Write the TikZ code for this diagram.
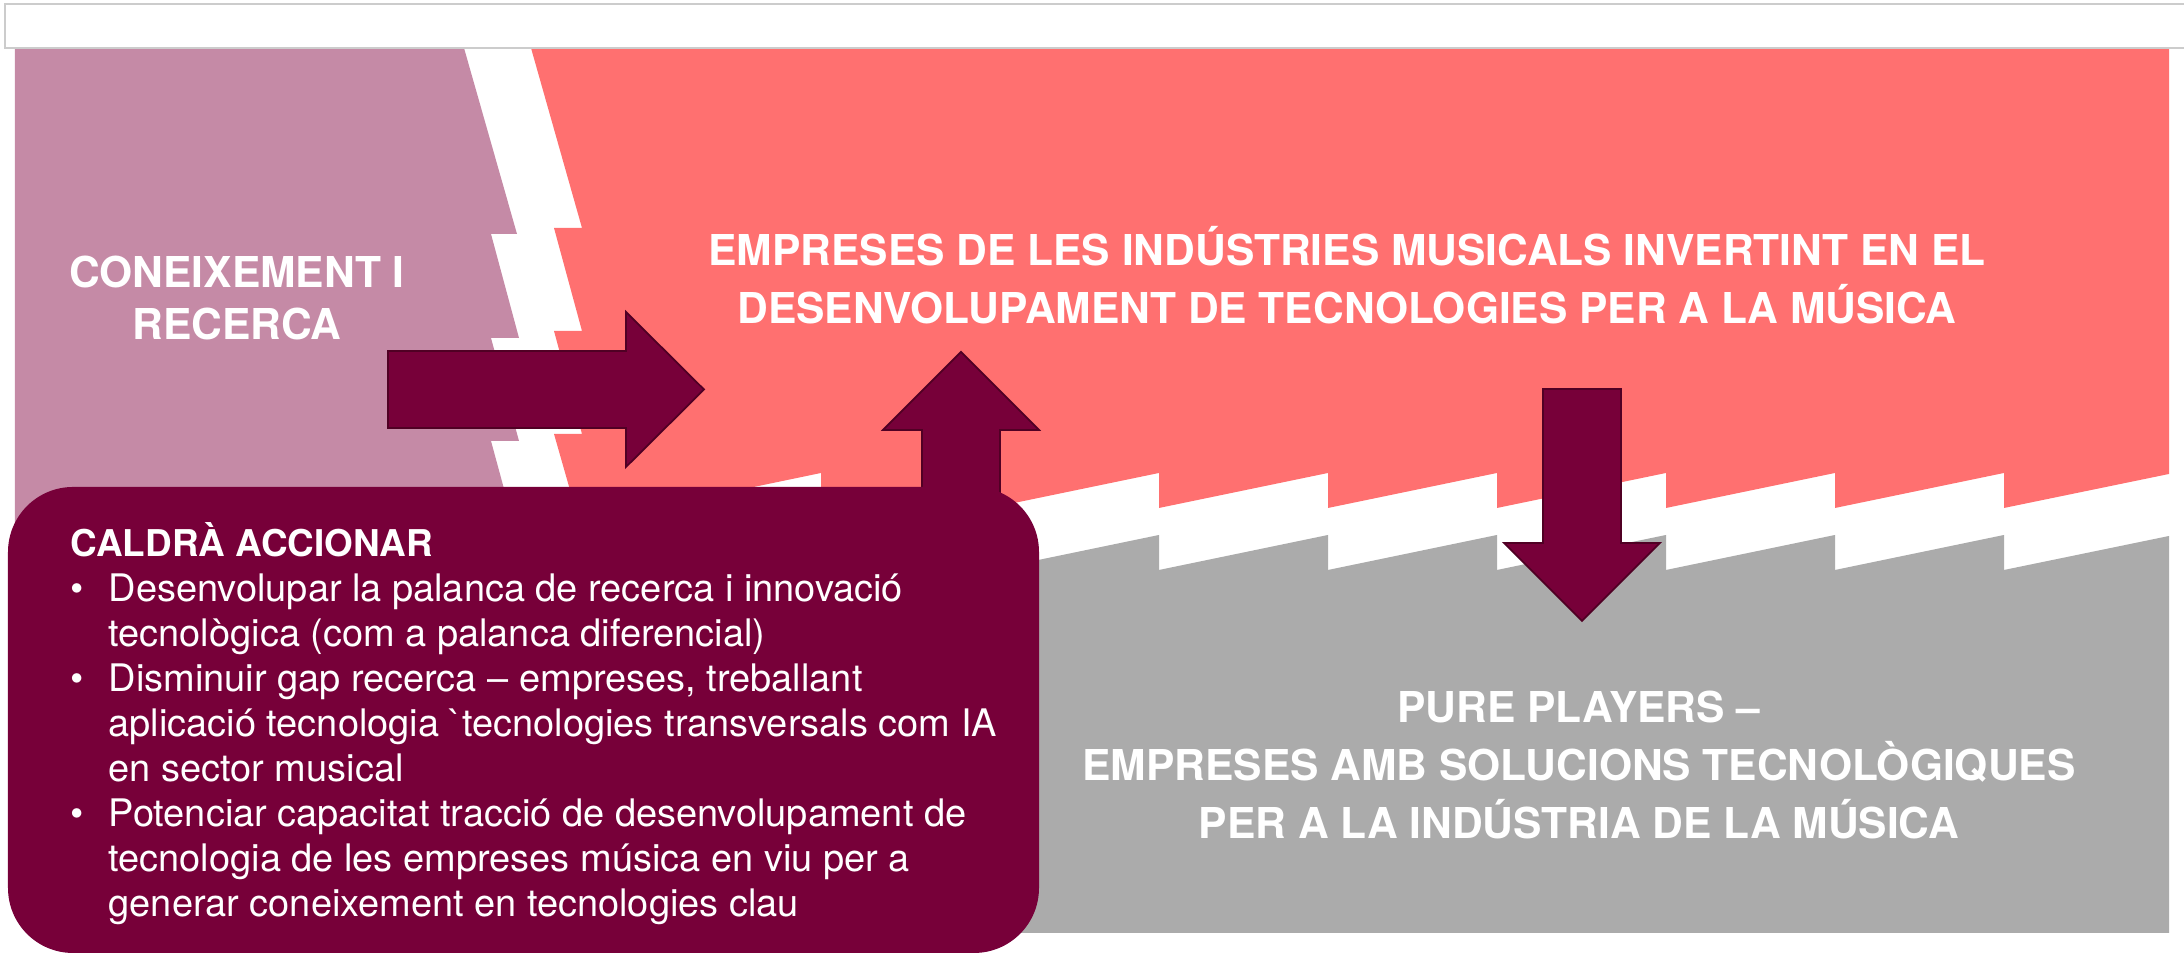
\documentclass[tikz,border=0pt]{standalone}
\usepackage{fontspec}
\setmainfont{TeX Gyre Heros}

\definecolor{mauve}{RGB}{197,138,166}
\definecolor{salmon}{RGB}{255,112,112}
\definecolor{slate}{RGB}{171,171,171}
\definecolor{wine}{RGB}{119,0,57}
\definecolor{wineline}{RGB}{80,0,36}
\definecolor{framegray}{RGB}{204,204,204}

\begin{document}
\begin{tikzpicture}[
      headtext/.style={text=white, align=center, inner sep=0pt,
        font={\fontsize{12.1pt}{14.8pt}\selectfont\bfseries}},
      blockarrow/.style={fill=wine, draw=wineline, line width=0.5pt, line join=miter},
      actionbox/.style={fill=wine, rounded corners=0.65cm, minimum width=10.31cm,
        minimum height=4.66cm, inner sep=0pt},
      bodytext/.style={text=white, align=left, inner sep=0pt,
        font={\fontsize{10.8pt}{12.8pt}\selectfont}}]
    \useasboundingbox (0,0) rectangle (21.84,9.54);
    \fill[mauve] (0.15,9.06) -- (4.64,9.06) -- (5.17,7.20) -- (4.91,7.20) -- (5.19,6.16)
      -- (4.91,6.16) -- (5.19,5.13) -- (4.91,5.13) -- (5.19,4.10) -- (4.91,4.10)
      -- (5.10,3.40) -- (0.15,3.40) -- cycle;
    \fill[salmon] (5.31,9.06) -- (21.69,9.06) -- (21.69,4.80) -- (20.04,4.46) -- (20.04,4.81)
      -- (18.35,4.46) -- (18.35,4.81) -- (16.66,4.46) -- (16.66,4.81) -- (14.97,4.46)
      -- (14.97,4.81) -- (13.28,4.46) -- (13.28,4.81) -- (11.59,4.46) -- (11.59,4.81)
      -- (9.90,4.46) -- (9.90,4.81) -- (8.21,4.46) -- (8.21,4.81) -- (6.00,4.35)
      -- (5.78,4.35) -- (5.70,4.64) -- (5.54,5.20) -- (5.82,5.20) -- (5.54,6.23)
      -- (5.82,6.23) -- (5.54,7.26) -- (5.82,7.26) -- cycle;
    \fill[slate] (9.00,0.21) -- (9.00,4.00) -- (9.90,4.19) -- (9.90,3.84) -- (11.59,4.19)
      -- (11.59,3.84) -- (13.28,4.19) -- (13.28,3.84) -- (14.97,4.19) -- (14.97,3.84)
      -- (16.66,4.19) -- (16.66,3.84) -- (18.35,4.19) -- (18.35,3.84) -- (20.04,4.19)
      -- (20.04,3.84) -- (21.69,4.18) -- (21.69,0.21) -- cycle;
    \draw[framegray, fill=white, line width=0.6pt] (0.05,9.06) rectangle (22.2,9.50);

    \node[headtext] (coneix) at (2.37,6.51) {\strut CONEIXEMENT I\\\strut RECERCA};
    \node[headtext] (empreses) at (13.47,6.71)
      {\strut EMPRESES DE LES INDÚSTRIES MUSICALS INVERTINT EN EL\\
       \strut DESENVOLUPAMENT DE TECNOLOGIES PER A LA MÚSICA};
    \node[headtext] (pure) at (15.79,1.84)
      {\strut PURE PLAYERS –\\
       \strut EMPRESES AMB SOLUCIONS TECNOLÒGIQUES\\
       \strut PER A LA INDÚSTRIA DE LA MÚSICA};

    \draw[blockarrow] (3.88,5.26) -- (3.88,6.03) -- (6.26,6.03) -- (6.26,6.42) -- (7.04,5.645)
      -- (6.26,4.87) -- (6.26,5.26) -- cycle;
    \draw[blockarrow] (9.22,4.00) -- (9.22,5.24) -- (8.83,5.24) -- (9.61,6.02) -- (10.39,5.24)
      -- (10.00,5.24) -- (10.00,4.00) -- cycle;
    \draw[blockarrow] (15.43,5.65) -- (16.21,5.65) -- (16.21,4.11) -- (16.60,4.11) -- (15.82,3.33)
      -- (15.04,4.11) -- (15.43,4.11) -- cycle;

    \node[actionbox] (accio) at (5.235,2.34) {};
    \node[bodytext, anchor=north west] (accions) at (0.70,4.325) {%
      {\fontsize{10.5pt}{12.8pt}\selectfont\bfseries\strut CALDRÀ ACCIONAR}\\
      \strut\makebox[0.38cm][l]{\textbullet}Desenvolupar la palanca de recerca i innovació\\
      \strut\hspace*{0.38cm}tecnològica (com a palanca diferencial)\\
      \strut\makebox[0.38cm][l]{\textbullet}Disminuir gap recerca – empreses, treballant\\
      \strut\hspace*{0.38cm}aplicació tecnologia \textasciigrave tecnologies transversals com IA\\
      \strut\hspace*{0.38cm}en sector musical\\
      \strut\makebox[0.38cm][l]{\textbullet}Potenciar capacitat tracció de desenvolupament de\\
      \strut\hspace*{0.38cm}tecnologia de les empreses música en viu per a\\
      \strut\hspace*{0.38cm}generar coneixement en tecnologies clau};
  \end{tikzpicture}
\end{document}
